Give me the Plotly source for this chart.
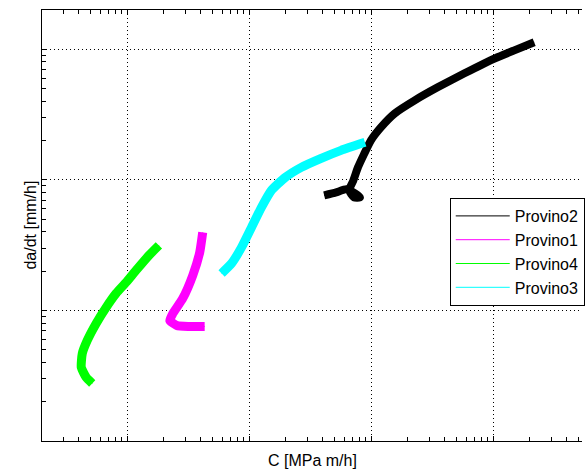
import numpy as np
import plotly.graph_objects as go

# Crack growth rate vs. C parameter for four specimens (log-log)
c_provino2 = [4.12e-4, 5.16e-4, 6.23e-4, 7.38e-4, 8.10e-4, 7.24e-4, 6.59e-4, 7.10e-4,
              7.80e-4, 8.73e-4, 9.96e-4, 1.202e-3, 1.564e-3, 2.278e-3, 3.51e-3,
              5.83e-3, 9.51e-3, 1.492e-2, 2.173e-2]
dadt_provino2 = [7.61e-3, 8.02e-3, 8.46e-3, 7.88e-3, 7.34e-3, 7.34e-3, 8.31e-3, 9.74e-3,
                 1.247e-2, 1.568e-2, 2.008e-2, 2.525e-2, 3.233e-2, 4.066e-2, 5.114e-2,
                 6.55e-2, 8.24e-2, 9.82e-2, 0.1131]

c_provino1 = [4.157e-5, 3.929e-5, 3.444e-5, 2.853e-5, 2.365e-5, 2.235e-5, 2.549e-5,
              3.195e-5, 4.316e-5]
dadt_provino1 = [3.960e-3, 2.782e-3, 1.854e-3, 1.236e-3, 9.48e-4, 8.38e-4, 7.67e-4,
                 7.54e-4, 7.54e-4]

c_provino4 = [1.818e-5, 1.507e-5, 1.180e-5, 9.78e-6, 8.10e-6, 6.71e-6, 5.56e-6,
              4.70e-6, 4.28e-6, 4.20e-6, 4.61e-6, 5.16e-6]
dadt_provino4 = [3.148e-3, 2.639e-3, 2.025e-3, 1.639e-3, 1.350e-3, 1.054e-3, 7.95e-4,
                 5.89e-4, 4.68e-4, 3.657e-4, 3.067e-4, 2.758e-4]

c_provino3 = [5.94e-5, 7.17e-5, 8.65e-5, 1.044e-4, 1.260e-4, 1.521e-4, 1.978e-4,
              2.673e-4, 3.892e-4, 5.67e-4, 8.90e-4]
dadt_provino3 = [1.921e-3, 2.292e-3, 3.04e-3, 4.325e-3, 6.155e-3, 8.31e-3, 1.045e-2,
                 1.247e-2, 1.461e-2, 1.683e-2, 1.938e-2]

series_names = ["Provino2", "Provino1", "Provino4", "Provino3"]
series_colors = ["#000000", "#ff00ff", "#00ff00", "#00ffff"]
series_widths = [8, 9, 9, 9]
series_x = [c_provino2, c_provino1, c_provino4, c_provino3]
series_y = [dadt_provino2, dadt_provino1, dadt_provino4, dadt_provino3]

FONT = "Liberation Sans, Arial, sans-serif"
FSIZE = 16

fig = go.Figure()

# thin legend entries
for name, col, xs, ys in zip(series_names, series_colors, series_x, series_y):
    fig.add_trace(go.Scatter(x=xs, y=ys, mode="lines", name=name,
                             line=dict(color=col, width=1), showlegend=True))

# thick data traces
for name, col, w, xs, ys in zip(series_names, series_colors, series_widths, series_x, series_y):
    fig.add_trace(go.Scatter(x=xs, y=ys, mode="lines", name=name,
                             line=dict(color=col, width=w, shape="spline", smoothing=0.5),
                             showlegend=False, hoverinfo="skip"))

decades = [10.0 ** k for k in range(-7, 1)]
minor_vals = [d * m for d in decades for m in range(2, 10)]

axis_common = dict(
    type="log",
    showline=True, linecolor="#000000", linewidth=1,
    showgrid=True, gridcolor="#000000", gridwidth=1, griddash="1px,3px",
    zeroline=False,
    ticks="inside", ticklen=5, tickcolor="#000000",
    dtick=1,
    showticklabels=False,
    minor=dict(ticks="inside", ticklen=4, tickcolor="#000000",
               tickvals=minor_vals, showgrid=False),
)

fig.update_xaxes(range=[np.log10(2e-6), np.log10(5.36e-2)], mirror="ticks", **axis_common)
fig.update_yaxes(range=[np.log10(1e-4), np.log10(2e-1)], mirror=False, **axis_common)

fig.update_layout(
    width=585, height=472,
    margin=dict(l=42, r=0, t=10, b=31, pad=0),
    paper_bgcolor="#ffffff", plot_bgcolor="#ffffff",
    font=dict(family=FONT, size=FSIZE, color="#000000"),
    legend=dict(
        x=(452 - 42) / 543, y=(441 - 198) / 431, xanchor="left", yanchor="top",
        bgcolor="#ffffff", bordercolor="#000000", borderwidth=1,
        itemwidth=54, font=dict(family=FONT, size=FSIZE), tracegroupgap=0,
    ),
    annotations=[
        dict(text="C [MPa m/h]", xref="paper", yref="paper", x=0.5, y=(441 - 460) / 431,
             xanchor="center", yanchor="middle", showarrow=False,
             font=dict(family=FONT, size=FSIZE)),
        dict(text="da/dt [mm/h]", xref="paper", yref="paper", x=(30 - 42) / 543, y=0.5,
             xanchor="center", yanchor="middle", textangle=-90, showarrow=False,
             font=dict(family=FONT, size=FSIZE)),
    ],
    showlegend=True,
)

fig.write_html("out.html")
